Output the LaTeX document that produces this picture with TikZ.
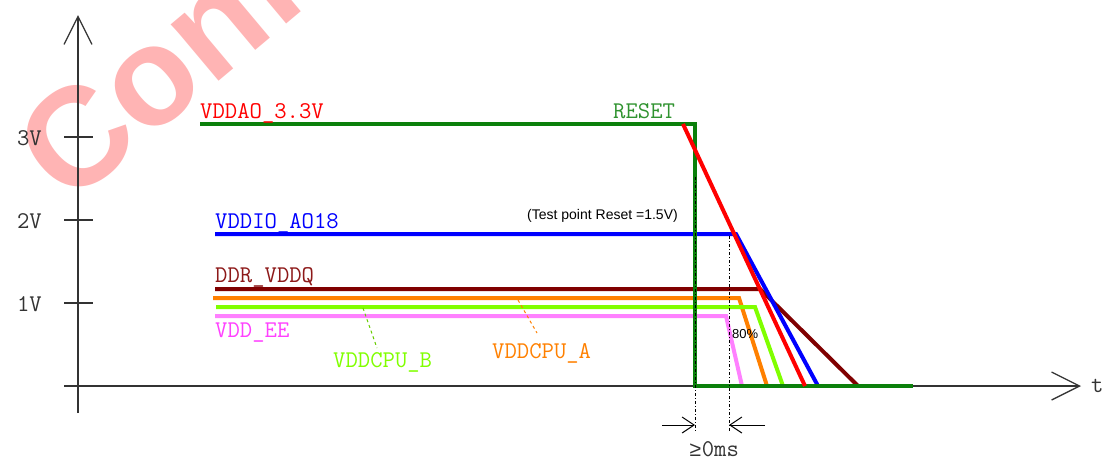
\documentclass[tikz,border=0pt]{standalone}
\usepackage{fontspec}
\setmainfont{Liberation Sans}
\newfontfamily\symfont{Liberation Mono}
\usetikzlibrary{arrows.meta}
\definecolor{rstgreen}{HTML}{0B800B}
\definecolor{aored}{HTML}{FF0000}
\definecolor{ioblue}{HTML}{0000FF}
\definecolor{ddrred}{HTML}{800000}
\definecolor{cpuaorange}{HTML}{FF8000}
\definecolor{cpubgreen}{HTML}{80FF00}
\definecolor{eepink}{HTML}{FF80FF}
\definecolor{eelabel}{HTML}{FF40FF}
\definecolor{wmred}{HTML}{FFB4B4}
\definecolor{axisgrey}{HTML}{333333}

\begin{document}
\begin{tikzpicture}[
  x=1pt, y=-1pt,
  rail/.style={line width=4pt, line join=miter},
  axis/.style={line width=1.3pt, draw=axisgrey},
  siglabel/.style={font=\fontsize{24}{24}\selectfont\ttfamily, inner sep=0pt, anchor=base west},
  note/.style={font=\fontsize{14}{14}\selectfont, inner sep=0pt, anchor=base west},
  guide/.style={line width=1pt, dash dot},
  leader/.style={line width=1pt, dashed},
  >={Straight Barb[length=28pt, width=28pt]}
]
\useasboundingbox (0,0) rectangle (1102,456);

% watermark
\begin{scope}
  \clip (0,0) rectangle (1102,456);
  \node[rotate=40, anchor=base west, inner sep=0pt, text=wmred,
    font=\fontsize{140}{140}\selectfont\bfseries] (wm) at (68,208) {Confidential};
\end{scope}

% axes
\draw[axis, ->] (78,413) -- (78,15);
\draw[axis, ->] (64,386) -- (1081,386);
\foreach \v/\y in {3/137, 2/220, 1/303} {
  \draw[axis] (64,\y) -- (93,\y);
  \node[siglabel, anchor=base east, text=axisgrey] (v\v) at (42,\y+8) {\v V};
}
\node[siglabel, text=axisgrey] (tlab) at (1091,392) {t};

% rails, slowest first
\draw[rail, aored] (200,124) -- (683,124);
\draw[rail, ddrred] (215,289) -- (760,289) -- (858,386);
\draw[rail, cpuaorange] (213,298) -- (739,298) -- (767,386);
\draw[rail, cpubgreen] (216,307) -- (755,307) -- (783,386);
\draw[rail, eepink] (215,316) -- (726,316) -- (742,386);
\draw[rail, ioblue] (215,234) -- (736,234) -- (818,386);
\draw[rail, rstgreen] (200,124) -- (695,124) -- (695,386) -- (913,386);
\draw[rail, aored] (683,124) -- (805,386);

% timing guides
\draw[guide] (695,177) -- (695,432);
\draw[guide] (729,236) -- (729,432);
\draw[line width=1pt, ->, >={Straight Barb[length=12pt, width=16pt]}] (662,425) -- (695,425);
\draw[line width=1pt, ->, >={Straight Barb[length=12pt, width=16pt]}] (765,425) -- (729,425);
\node[siglabel, text=axisgrey] (gap) at (689,456) {{\symfont\fontsize{21}{21}\selectfont ≥}0ms};

% labels
\node[siglabel, text=aored] (ao) at (200,118) {VDDAO\_3.3V};
\node[siglabel, text=rstgreen!85] (rst) at (613,118) {RESET};
\node[siglabel, text=ioblue] (io) at (215,228) {VDDIO\_AO18};
\node[siglabel, text=ddrred!90] (ddr) at (215,282) {DDR\_VDDQ};
\node[siglabel, text=eelabel] (ee) at (215,337) {VDD\_EE};
\node[siglabel, text=cpubgreen] (cpub) at (333,367) {VDDCPU\_B};
\node[siglabel, text=cpuaorange] (cpua) at (492,358) {VDDCPU\_A};
\node[note] (tp) at (527,219) {(Test point Reset =1.5V)};
\node[note, font=\fontsize{13}{13}\selectfont] (pct) at (732,338) {80\%};

\draw[leader, cpubgreen!80!black] (363,308) -- (377,348);
\draw[leader, cpuaorange] (518,300) -- (537,333);
\end{tikzpicture}
\end{document}
